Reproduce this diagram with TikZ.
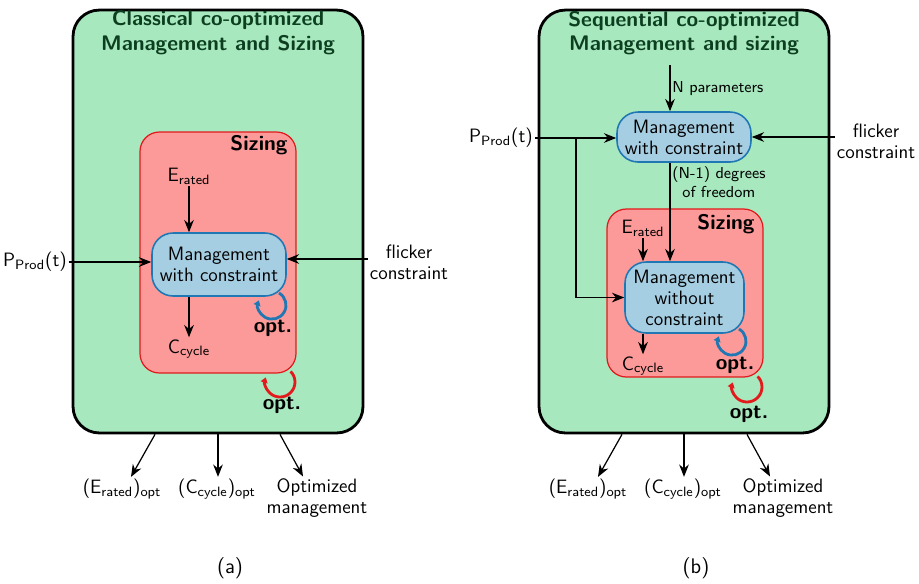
\documentclass[tikz,border=0pt]{standalone}
\usetikzlibrary{arrows.meta}
\renewcommand{\familydefault}{\sfdefault}
\newcommand{\nodefont}{\fontsize{11}{12}\selectfont}

\definecolor{panelgreen}{RGB}{168,232,190}
\definecolor{titlegreen}{RGB}{12,62,32}
\definecolor{sizered}{RGB}{251,154,153}
\definecolor{bordred}{RGB}{227,26,28}
\definecolor{mgblue}{RGB}{166,206,227}
\definecolor{bordblue}{RGB}{31,120,180}

\tikzset{
  panel/.style={draw=black, line width=1.6pt, fill=panelgreen, rounded corners=15pt,
    minimum width=5.8cm, minimum height=8.46cm},
  sizebox/.style={draw=bordred, line width=0.7pt, fill=sizered, rounded corners=11pt,
    minimum width=3.12cm},
  mgmt/.style={draw=bordblue, line width=0.9pt, fill=mgblue, rounded corners=12pt,
    align=center, font=\nodefont, inner sep=1pt},
  title/.style={text=titlegreen, font=\large\bfseries, align=center},
  boxname/.style={font=\large\bfseries},
  optlbl/.style={font=\large\bfseries},
  lbl/.style={font=\nodefont, align=center, inner sep=1pt},
  smalllbl/.style={font=\small, align=center, inner sep=1pt},
  arr/.style={-{Stealth[length=7pt,width=5.5pt]}, line width=0.7pt},
  bloop/.style={draw=bordblue, line width=1.6pt, -{Triangle[length=3pt,width=4pt]}},
  rloop/.style={draw=bordred, line width=1.6pt, -{Triangle[length=3pt,width=4pt]}}
}

\begin{document}
\begin{tikzpicture}[x=0.02cm, y=-0.02cm]
    \useasboundingbox (0,0) rectangle (919,583);

    \node[panel] (panelA) at (218,221.5) {};
    \node[panel] (panelB) at (684,221.5) {};
    \node[title] (titleA) at (218,33) {Classical co-optimized\\Management and Sizing};
    \node[title] (titleB) at (684,33) {Sequential co-optimized\\Management and sizing};

    \node[sizebox, minimum height=4.82cm] (sizeA) at (218,252.5) {};
    \node[sizebox, minimum height=3.36cm] (sizeB) at (685,293) {};
    \node[boxname] (sizingA) at (259,145) {Sizing};
    \node[boxname] (sizingB) at (726,224) {Sizing};

    \node[mgmt, minimum width=2.68cm, minimum height=1.26cm] (mgA) at (219,264.5) {Management\\with constraint};
    \node[mgmt, minimum width=2.68cm, minimum height=1cm] (mgB) at (684,137) {Management\\with constraint};
    \node[mgmt, minimum width=2.38cm, minimum height=1.42cm] (mgC) at (684.5,297.5) {Management\\without\\constraint};

    \node[lbl] (eratA) at (189,176) {E\textsubscript{rated}};
    \node[lbl] (ccycA) at (189,349) {C\textsubscript{cycle}};
    \node[lbl] (pprodA) at (35,262) {P\textsubscript{Prod}(t)};
    \node[lbl] (flickA) at (409,262) {flicker\\constraint};

    \node[lbl] (eratB) at (643,228) {E\textsubscript{rated}};
    \node[lbl] (ccycB) at (643,366) {C\textsubscript{cycle}};
    \node[lbl] (pprodB) at (501,138) {P\textsubscript{Prod}(t)};
    \node[lbl] (flickB) at (876,141) {flicker\\constraint};
    \coordinate (nin) at (670,65);
    \coordinate (split) at (576,138);

    \draw[arr] (eratA) -- (eratA |- mgA.north);
    \draw[arr] (ccycA |- mgA.south) -- (ccycA.north);
    \draw[arr] (pprodA.east) -- (pprodA.east -| mgA.west);
    \draw[arr] (flickA.west |- 0,259) -- (mgA.east |- 0,259);

    \draw[arr] (nin) -- (nin |- mgB.north) node[smalllbl, midway, anchor=west] {N parameters};
    \draw[arr] (pprodB.east) -- (pprodB.east -| mgB.west);
    \draw[arr] (split) |- (mgC.west);
    \draw[arr] (flickB.west |- mgB.east) -- (mgB.east);
    \draw[arr] (nin |- mgB.south) -- (nin |- mgC.north) node[smalllbl, pos=0.2, anchor=west] {(N-1) degrees\\of freedom};
    \draw[arr] (eratB) -- (eratB |- mgC.north);
    \draw[arr] (ccycB |- mgC.south) -- (ccycB.north);

    \draw[bloop] (279,293) arc[start angle=60, end angle=-200, radius=0.28cm];
    \draw[rloop] (290.6,371.4) arc[start angle=45, end angle=-198, radius=0.3cm];
    \draw[bloop] (739,329) arc[start angle=60, end angle=-200, radius=0.28cm];
    \draw[rloop] (757.6,376.4) arc[start angle=45, end angle=-198, radius=0.3cm];
    \node[optlbl] (optA1) at (273,328) {opt.};
    \node[optlbl] (optA2) at (282,405) {opt.};
    \node[optlbl] (optB1) at (735,365) {opt.};
    \node[optlbl] (optB2) at (749,414) {opt.};

    \node[lbl] (eoptA) at (122,489) {(E\textsubscript{rated})\textsubscript{opt}};
    \node[lbl] (coptA) at (217,489) {(C\textsubscript{cycle})\textsubscript{opt}};
    \node[lbl] (moptA) at (317,498) {Optimized\\management};
    \node[lbl] (eoptB) at (588,489) {(E\textsubscript{rated})\textsubscript{opt}};
    \node[lbl] (coptB) at (683,489) {(C\textsubscript{cycle})\textsubscript{opt}};
    \node[lbl] (moptB) at (783,498) {Optimized\\management};

    \draw[arr] ([xshift=-1.26cm]panelA.south) -- ([xshift=0.18cm]eoptA.north);
    \draw[arr] (panelA.south) -- (panelA.south |- coptA.north);
    \draw[arr] ([xshift=1.24cm]panelA.south) -- ([xshift=-0.28cm]moptA.north);
    \draw[arr] ([xshift=-1.24cm]panelB.south) -- ([xshift=0.2cm]eoptB.north);
    \draw[arr] (panelB.south) -- (panelB.south |- coptB.north);
    \draw[arr] ([xshift=1.26cm]panelB.south) -- ([xshift=-0.26cm]moptB.north);

    \node[font=\large] (capA) at (230,568) {(a)};
    \node[font=\large] (capB) at (696,568) {(b)};
\end{tikzpicture}
\end{document}
